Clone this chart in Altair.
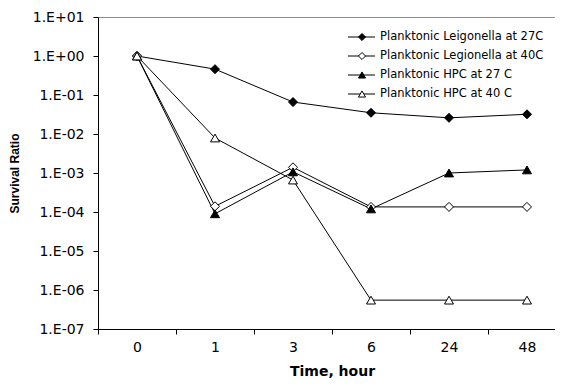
import altair as alt
import pandas as pd

times = ["0", "1", "3", "6", "24", "48"]
series_names = [
    "Planktonic Leigonella at 27C",
    "Planktonic Legionella at 40C",
    "Planktonic HPC at 27 C",
    "Planktonic HPC at 40 C",
]
leg27 = [1.0, 0.46, 0.066, 0.035, 0.026, 0.032]
leg40 = [1.0, 1.4e-4, 1.4e-3, 1.35e-4, 1.35e-4, 1.35e-4]
hpc27 = [1.0, 9.0e-5, 1.07e-3, 1.2e-4, 1.0e-3, 1.2e-3]
hpc40 = [1.0, 7.9e-3, 6.6e-4, 5.5e-7, 5.5e-7, 5.5e-7]
y_ticks = [1e-7, 1e-6, 1e-5, 1e-4, 1e-3, 1e-2, 1e-1, 1e0, 1e1]
shapes = ["diamond", "diamond", "triangle-up", "triangle-up"]
fills = ["black", "white", "black", "white"]
sizes = [81, 81, 90, 90]

rows = []
for name, vals in zip(series_names, [leg27, leg40, hpc27, hpc40]):
    for i, (t, v) in enumerate(zip(times, vals)):
        rows.append({"time": t, "idx": i, "ratio": v, "series": name})
df = pd.DataFrame(rows)
leg_df = pd.DataFrame({"series": series_names})

x_scale = alt.Scale(type="band", paddingInner=0, paddingOuter=0, range=[0, 468])
x_enc = alt.X(
    "time:O",
    sort=times,
    scale=x_scale,
    axis=alt.Axis(
        title="Time, hour",
        tickBand="extent",
        labelAngle=0,
        labelFont="DejaVu Sans",
        labelFontSize=14,
        labelBaseline="alphabetic",
        labelPadding=17,
        titleFont="DejaVu Sans",
        titleFontSize=14,
        titleFontWeight="bold",
        titleBaseline="alphabetic",
        titleY=46,
        titleX=234,
        tickSize=5,
        domainColor="black",
        tickColor="black",
        labelColor="black",
        titleColor="black",
    ),
)
label_expr = (
    "'1.E' + (round(log(datum.value)/LN10) >= 0 ? '+' : '-') + "
    "(abs(round(log(datum.value)/LN10)) < 10 ? '0' : '') + "
    "abs(round(log(datum.value)/LN10))"
)
y_enc = alt.Y(
    "ratio:Q",
    scale=alt.Scale(type="log", domain=[1e-7, 10], nice=False),
    axis=alt.Axis(
        title="Survival Ratio",
        values=y_ticks,
        labelExpr=label_expr,
        labelFont="DejaVu Sans",
        labelFontSize=14,
        labelPadding=9,
        tickSize=5,
        grid=False,
        titleFont="Liberation Sans",
        titleFontSize=12,
        titleFontWeight="bold",
        titleBaseline="middle",
        titleX=-83.5,
        domainColor="black",
        tickColor="black",
        labelColor="black",
        titleColor="black",
    ),
)
shape_enc = alt.Shape("series:N", scale=alt.Scale(domain=series_names, range=shapes), legend=None)
fill_enc = alt.Fill("series:N", scale=alt.Scale(domain=series_names, range=fills), legend=None)
size_enc = alt.Size("series:N", scale=alt.Scale(domain=series_names, range=sizes), legend=None)

base = alt.Chart(df)
lines = base.mark_line(color="black", strokeWidth=1).encode(
    x=x_enc, y=y_enc, detail="series:N", order=alt.Order("idx:Q")
)
points = base.mark_point(filled=False, stroke="black", strokeWidth=1, opacity=1).encode(
    x=x_enc, y=y_enc, shape=shape_enc, fill=fill_enc, size=size_enc
)
main = alt.layer(lines, points)

# top frame line (grey) drawn as a top axis domain
top_frame = base.mark_point(opacity=0).encode(
    x=alt.X(
        "time:O",
        sort=times,
        scale=x_scale,
        axis=alt.Axis(
            orient="top", labels=False, ticks=False, title=None,
            domainColor="#8c8c8c", domainWidth=1,
        ),
    ),
)

leg_y = alt.Y(
    "series:N",
    scale=alt.Scale(type="point", domain=series_names, range=[20, 77], padding=0),
    axis=None,
)
leg_base = alt.Chart(leg_df)
leg_rule = leg_base.mark_rule(color="black", strokeWidth=1).encode(
    y=leg_y, x=alt.value(250), x2=alt.value(277)
)
leg_pts = leg_base.mark_point(filled=False, stroke="black", strokeWidth=1, opacity=1, size=50).encode(
    y=leg_y, x=alt.value(264), shape=shape_enc, fill=fill_enc
)
leg_txt = leg_base.mark_text(
    align="left", baseline="middle", font="DejaVu Sans", fontSize=11.5, color="black"
).encode(y=leg_y, x=alt.value(282), text="series:N")
legend = alt.layer(leg_rule, leg_pts, leg_txt)

chart = (
    alt.layer(main, top_frame, legend)
    .resolve_scale(y="independent")
    .resolve_axis(x="independent")
    .properties(
        width=457,
        height=312,
        padding={"left": 90, "top": 9, "right": 0, "bottom": 50},
        autosize=alt.AutoSizeParams(type="none"),
    )
    .configure_view(stroke=None)
    .configure(background="white")
)
chart.save("out.html", embed_options={"renderer": "svg", "actions": False})
